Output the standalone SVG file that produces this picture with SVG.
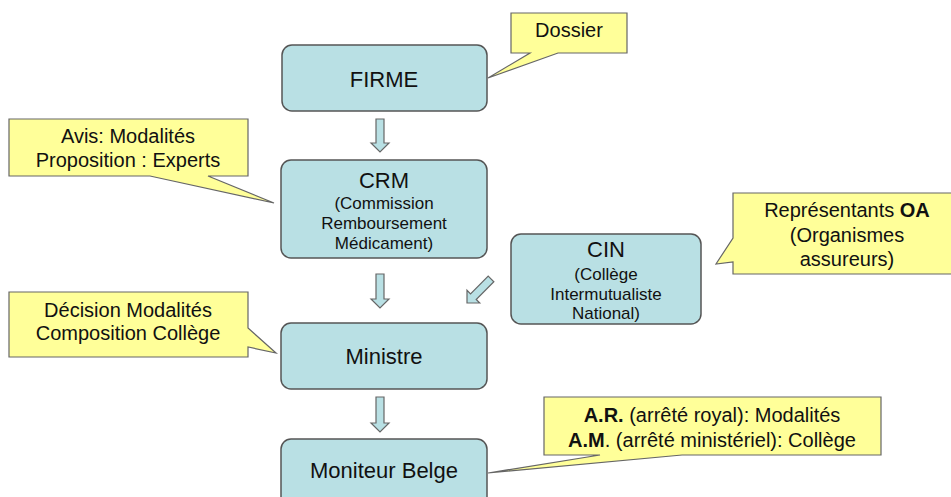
<svg xmlns="http://www.w3.org/2000/svg" width="951" height="497" viewBox="0 0 951 497">
<style>
.box{fill:#b9e0e4;stroke:#555;stroke-width:1.5}
.call{fill:#ffff99;stroke:#666;stroke-width:1.2}
.arr{fill:#b9e0e4;stroke:#666;stroke-width:1.2}
text{font-family:"Liberation Sans",Arial,sans-serif;fill:#111;text-anchor:middle}
.big{font-size:22px}
.sm{font-size:17px}
.ct{font-size:20px}
.b{font-weight:bold}
</style>
<rect width="951" height="497" fill="#fff"/>
<g id="connectors">
<path class="arr" d="M376,119 H384 V143 H389 L380,152 L371,143 H376 Z"/>
<path class="arr" d="M376,274 H384 V299 H389 L380,308 L371,299 H376 Z"/>
<path class="arr" d="M376,397 H384 V423 H389 L380,432 L371,423 H376 Z"/>
<path class="arr" transform="translate(467,303) rotate(45)" d="M-4,-34 H4 V-9 H9 L0,0 L-9,-9 H-4 Z"/>
</g>
<g id="firme">
<rect class="box" x="282" y="45" width="205" height="66" rx="10"/>
<text class="big" x="384" y="87">FIRME</text>
</g>
<g id="crm">
<rect class="box" x="281" y="160" width="206" height="98" rx="10"/>
<text class="big" x="384" y="188">CRM</text>
<text class="sm" x="384" y="209">(Commission</text>
<text class="sm" x="384" y="229">Remboursement</text>
<text class="sm" x="384" y="249">Médicament)</text>
</g>
<g id="cin">
<rect class="box" x="511" y="234" width="190" height="90" rx="10"/>
<text class="big" x="606" y="257">CIN</text>
<text class="sm" x="606" y="280">(Collège</text>
<text class="sm" x="606" y="300">Intermutualiste</text>
<text class="sm" x="606" y="319">National)</text>
</g>
<g id="ministre">
<rect class="box" x="281" y="323" width="206" height="66" rx="10"/>
<text class="big" x="384" y="364">Ministre</text>
</g>
<g id="moniteur">
<rect class="box" x="281" y="439" width="206" height="80" rx="10"/>
<text class="big" x="384" y="478">Moniteur Belge</text>
</g>
<g id="dossier">
<path class="call" d="M511,13 H627 V53 H558 L488,78 L530,53 H511 Z"/>
<text class="ct" x="569" y="37">Dossier</text>
</g>
<g id="avis">
<path class="call" d="M9,119 H248 V176 H208 L274,203 L150,176 H9 Z"/>
<text class="ct" x="128" y="143">Avis: Modalités</text>
<text class="ct" x="128" y="167">Proposition : Experts</text>
</g>
<g id="representants">
<path class="call" d="M733,193 H961 V274 H733 V262 L716,264 L733,238 Z"/>
<text class="ct" x="847" y="217">Représentants <tspan class="b">OA</tspan></text>
<text class="ct" x="847" y="242">(Organismes</text>
<text class="ct" x="847" y="266">assureurs)</text>
</g>
<g id="decision">
<path class="call" d="M9,292 H248 V328 L276,353 L248,347 V357 H9 Z"/>
<text class="ct" x="128" y="317">Décision Modalités</text>
<text class="ct" x="128" y="340">Composition Collège</text>
</g>
<g id="arrete">
<path class="call" d="M544,397 H881 V455 H682 L488,473 L600,455 H544 Z"/>
<text class="ct" x="712" y="422"><tspan class="b">A.R.</tspan> (arrêté royal): Modalités</text>
<text class="ct" x="712" y="447"><tspan class="b">A.M</tspan>. (arrêté ministériel): Collège</text>
</g>
</svg>
